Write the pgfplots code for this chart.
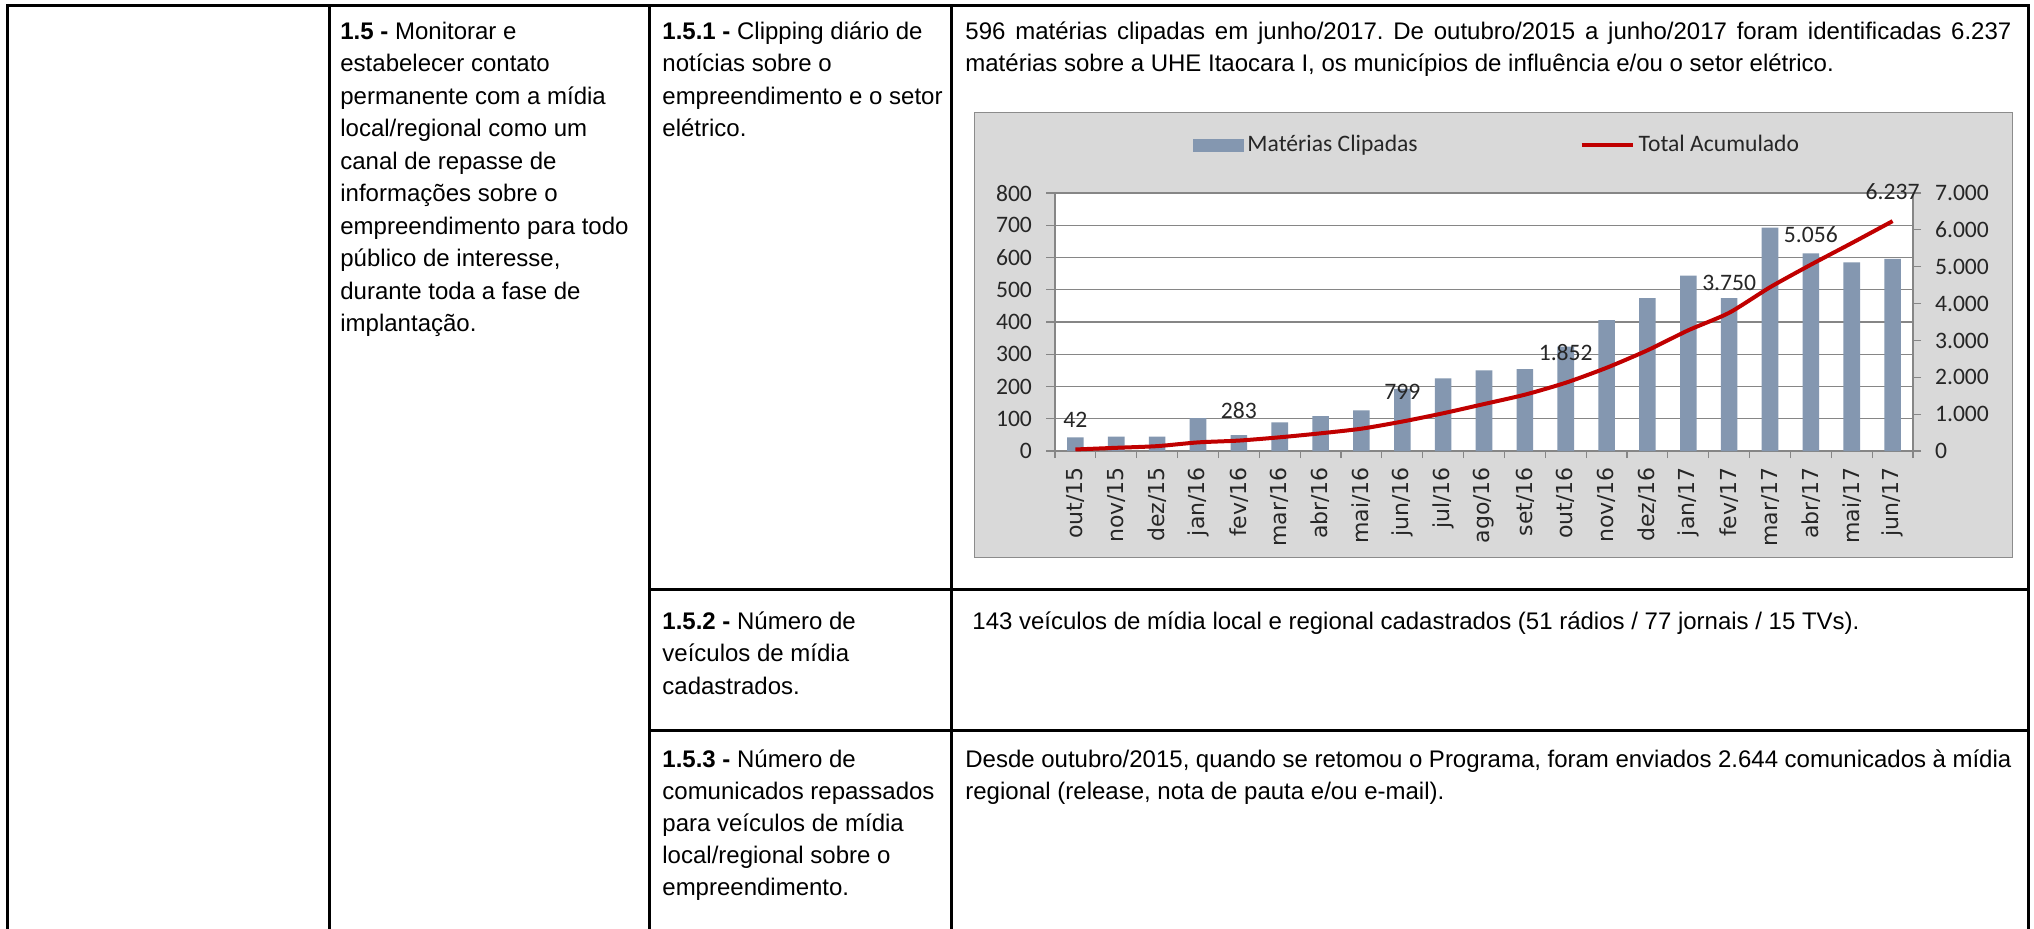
\documentclass[border=0pt]{standalone}
\usepackage{fontspec}
\setmainfont{Liberation Sans}
\newfontfamily\chartfont{Carlito}
\newfontfamily\xlabfont{DejaVu Sans}
\usepackage{pgfplots}
\pgfplotsset{compat=1.18}
\definecolor{barc}{HTML}{8497B0}
\definecolor{linec}{HTML}{C00000}
\definecolor{axc}{HTML}{868686}
\definecolor{boxc}{HTML}{D9D9D9}
\definecolor{boxb}{HTML}{8C8C8C}
\newcommand\tf{\fontsize{12}{15}\selectfont}
\newcommand\cf{\chartfont\fontsize{11.8}{14}\selectfont}
\frenchspacing

\pgfplotstableread{
x y
0 42
1 45
2 45
3 102
4 49
5 89
6 108
7 126
8 193
9 225
10 250
11 254
12 324
13 406
14 474
15 544
16 474
17 693
18 613
19 585
20 596
}\bars

\pgfplotstableread{
x y
0 42
1 87
2 132
3 234
4 283
5 372
6 480
7 606
8 799
9 1024
10 1274
11 1528
12 1852
13 2258
14 2732
15 3276
16 3750
17 4443
18 5056
19 5641
20 6237
}\cumul

\pgfplotstableread{
x y lab
0 42 42
4 283 283
8 799 799
12 1852 1.852
16 3750 3.750
18 5056 5.056
20 6237 6.237
}\labs

\begin{document}
\begin{tikzpicture}
\begin{scope}[x=0.5pt,y=-0.5pt, every node/.style={font=\tf, anchor=base west, inner sep=0pt}]
% table lines
\draw[line width=1.5pt, line cap=rect] (7,5) -- (2028,5);
\foreach \xx in {7,329,649,951,2028} {\draw[line width=1.5pt] (\xx,5) -- (\xx,930);}
\draw[line width=1.5pt] (649,589) -- (2028,589);
\draw[line width=1.5pt] (649,730) -- (2028,730);
% column 2
\node at (340,39) {\textbf{1.5 -} Monitorar e};
\node at (340,71.5) {estabelecer contato};
\node at (340,104) {permanente com a mídia};
\node at (340,136.5) {local/regional como um};
\node at (340,169) {canal de repasse de};
\node at (340,201.5) {informações sobre o};
\node at (340,234) {empreendimento para todo};
\node at (340,266.5) {público de interesse,};
\node at (340,299) {durante toda a fase de};
\node at (340,331.5) {implantação.};
% column 3
\node at (662,39) {\textbf{1.5.1 -} Clipping diário de};
\node at (662,71.5) {notícias sobre o};
\node at (662,104) {empreendimento e o setor};
\node at (662,136.5) {elétrico.};
\node at (662,629) {\textbf{1.5.2 -} Número de};
\node at (662,661.5) {veículos de mídia};
\node at (662,694) {cadastrados.};
\node at (662,767) {\textbf{1.5.3 -} Número de};
\node at (662,799) {comunicados repassados};
\node at (662,831) {para veículos de mídia};
\node at (662,863) {local/regional sobre o};
\node at (662,895) {empreendimento.};
% column 4
\node at (965,39) {\makebox[523pt][s]{596 matérias clipadas em junho/2017. De outubro/2015 a junho/2017 foram identificadas 6.237}};
\node at (965,71.5) {matérias sobre a UHE Itaocara I, os municípios de influência e/ou o setor elétrico.};
\node at (972,629) {143 veículos de mídia local e regional cadastrados (51 rádios / 77 jornais / 15 TVs).};
\node at (965,767) {\makebox[523pt][s]{Desde outubro/2015, quando se retomou o Programa, foram enviados 2.644 comunicados à mídia}};
\node at (965,799) {regional (release, nota de pauta e/ou e-mail).};
% chart area
\draw[boxb, fill=boxc, line width=0.5pt] (974,112) rectangle (2012,557);
\end{scope}

\begin{axis}[
  at={(527.5pt,-225.5pt)}, anchor=south west,
  width=429pt, height=129pt, scale only axis,
  xmin=-0.5, xmax=20.5, ymin=0, ymax=800,
  axis x line*=bottom, axis y line*=left,
  axis line style={axc, line width=0.6pt},
  every tick/.style={axc, line width=0.6pt},
  tick align=outside,
  major tick length=4.5pt,
  minor tick length=3.5pt,
  xtick={0,...,20},
  xticklabels={out/15,nov/15,dez/15,jan/16,fev/16,mar/16,abr/16,mai/16,jun/16,jul/16,ago/16,set/16,out/16,nov/16,dez/16,jan/17,fev/17,mar/17,abr/17,mai/17,jun/17},
  major x tick style={draw=none},
  minor xtick={-0.5,0.5,...,20.5},
  ytick={0,100,...,800},
  ymajorgrids, grid style={axc, line width=0.6pt},
  axis background/.style={fill=white},
  yticklabel style={font=\cf, text=black!85, xshift=-3.5pt},
  xticklabel style={font=\xlabfont\fontsize{11}{13}\selectfont, rotate=90, anchor=east, text=black!85},
  /pgf/number format/assume math mode=true,
  clip=false,
]
\addplot[ybar, bar width=8.3pt, fill=barc, draw=none] table[x=x,y=y] {\bars};
\end{axis}

\begin{axis}[
  at={(527.5pt,-225.5pt)}, anchor=south west,
  width=429pt, height=129pt, scale only axis,
  xmin=-0.5, xmax=20.5, ymin=0, ymax=7000,
  axis x line=none, axis y line*=right,
  axis line style={axc, line width=0.6pt},
  every tick/.style={axc, line width=0.6pt},
  tick align=outside,
  major tick length=4pt,
  ytick={0,1000,...,7000},
  scaled y ticks=false,
  /pgf/number format/1000 sep={.},
  /pgf/number format/assume math mode=true,
  yticklabel style={font=\cf, text=black!85, xshift=3.5pt},
  legend columns=2,
  legend cell align=left,
  legend style={at={(0.16,1.186)}, anchor=west, draw=none, fill=none, inner sep=0pt,
    font=\cf, text=black!85,
    /tikz/every even column/.append style={column sep=79pt}},
  clip=false,
]
\addlegendimage{legend image code/.code={\fill[barc] (0pt,-3pt) rectangle (25pt,3pt);}}
\addlegendentry{Matérias Clipadas}
\addplot[linec, line width=2pt, smooth, tension=0.4,
  legend image code/.code={\draw[linec, line width=2pt] (0pt,0pt) -- (25.5pt,0pt);}]
  table[x=x,y=y] {\cumul};
\addlegendentry{Total Acumulado}
\addplot[draw=none, forget plot, nodes near coords, point meta=explicit symbolic,
  nodes near coords style={anchor=center, yshift=15pt, font=\cf, text=black!85, inner sep=0pt}]
  table[x=x,y=y,meta=lab] {\labs};
\end{axis}

\pgfresetboundingbox
\path[use as bounding box] (0,0) rectangle (1017pt,-464pt);
\end{tikzpicture}
\end{document}
